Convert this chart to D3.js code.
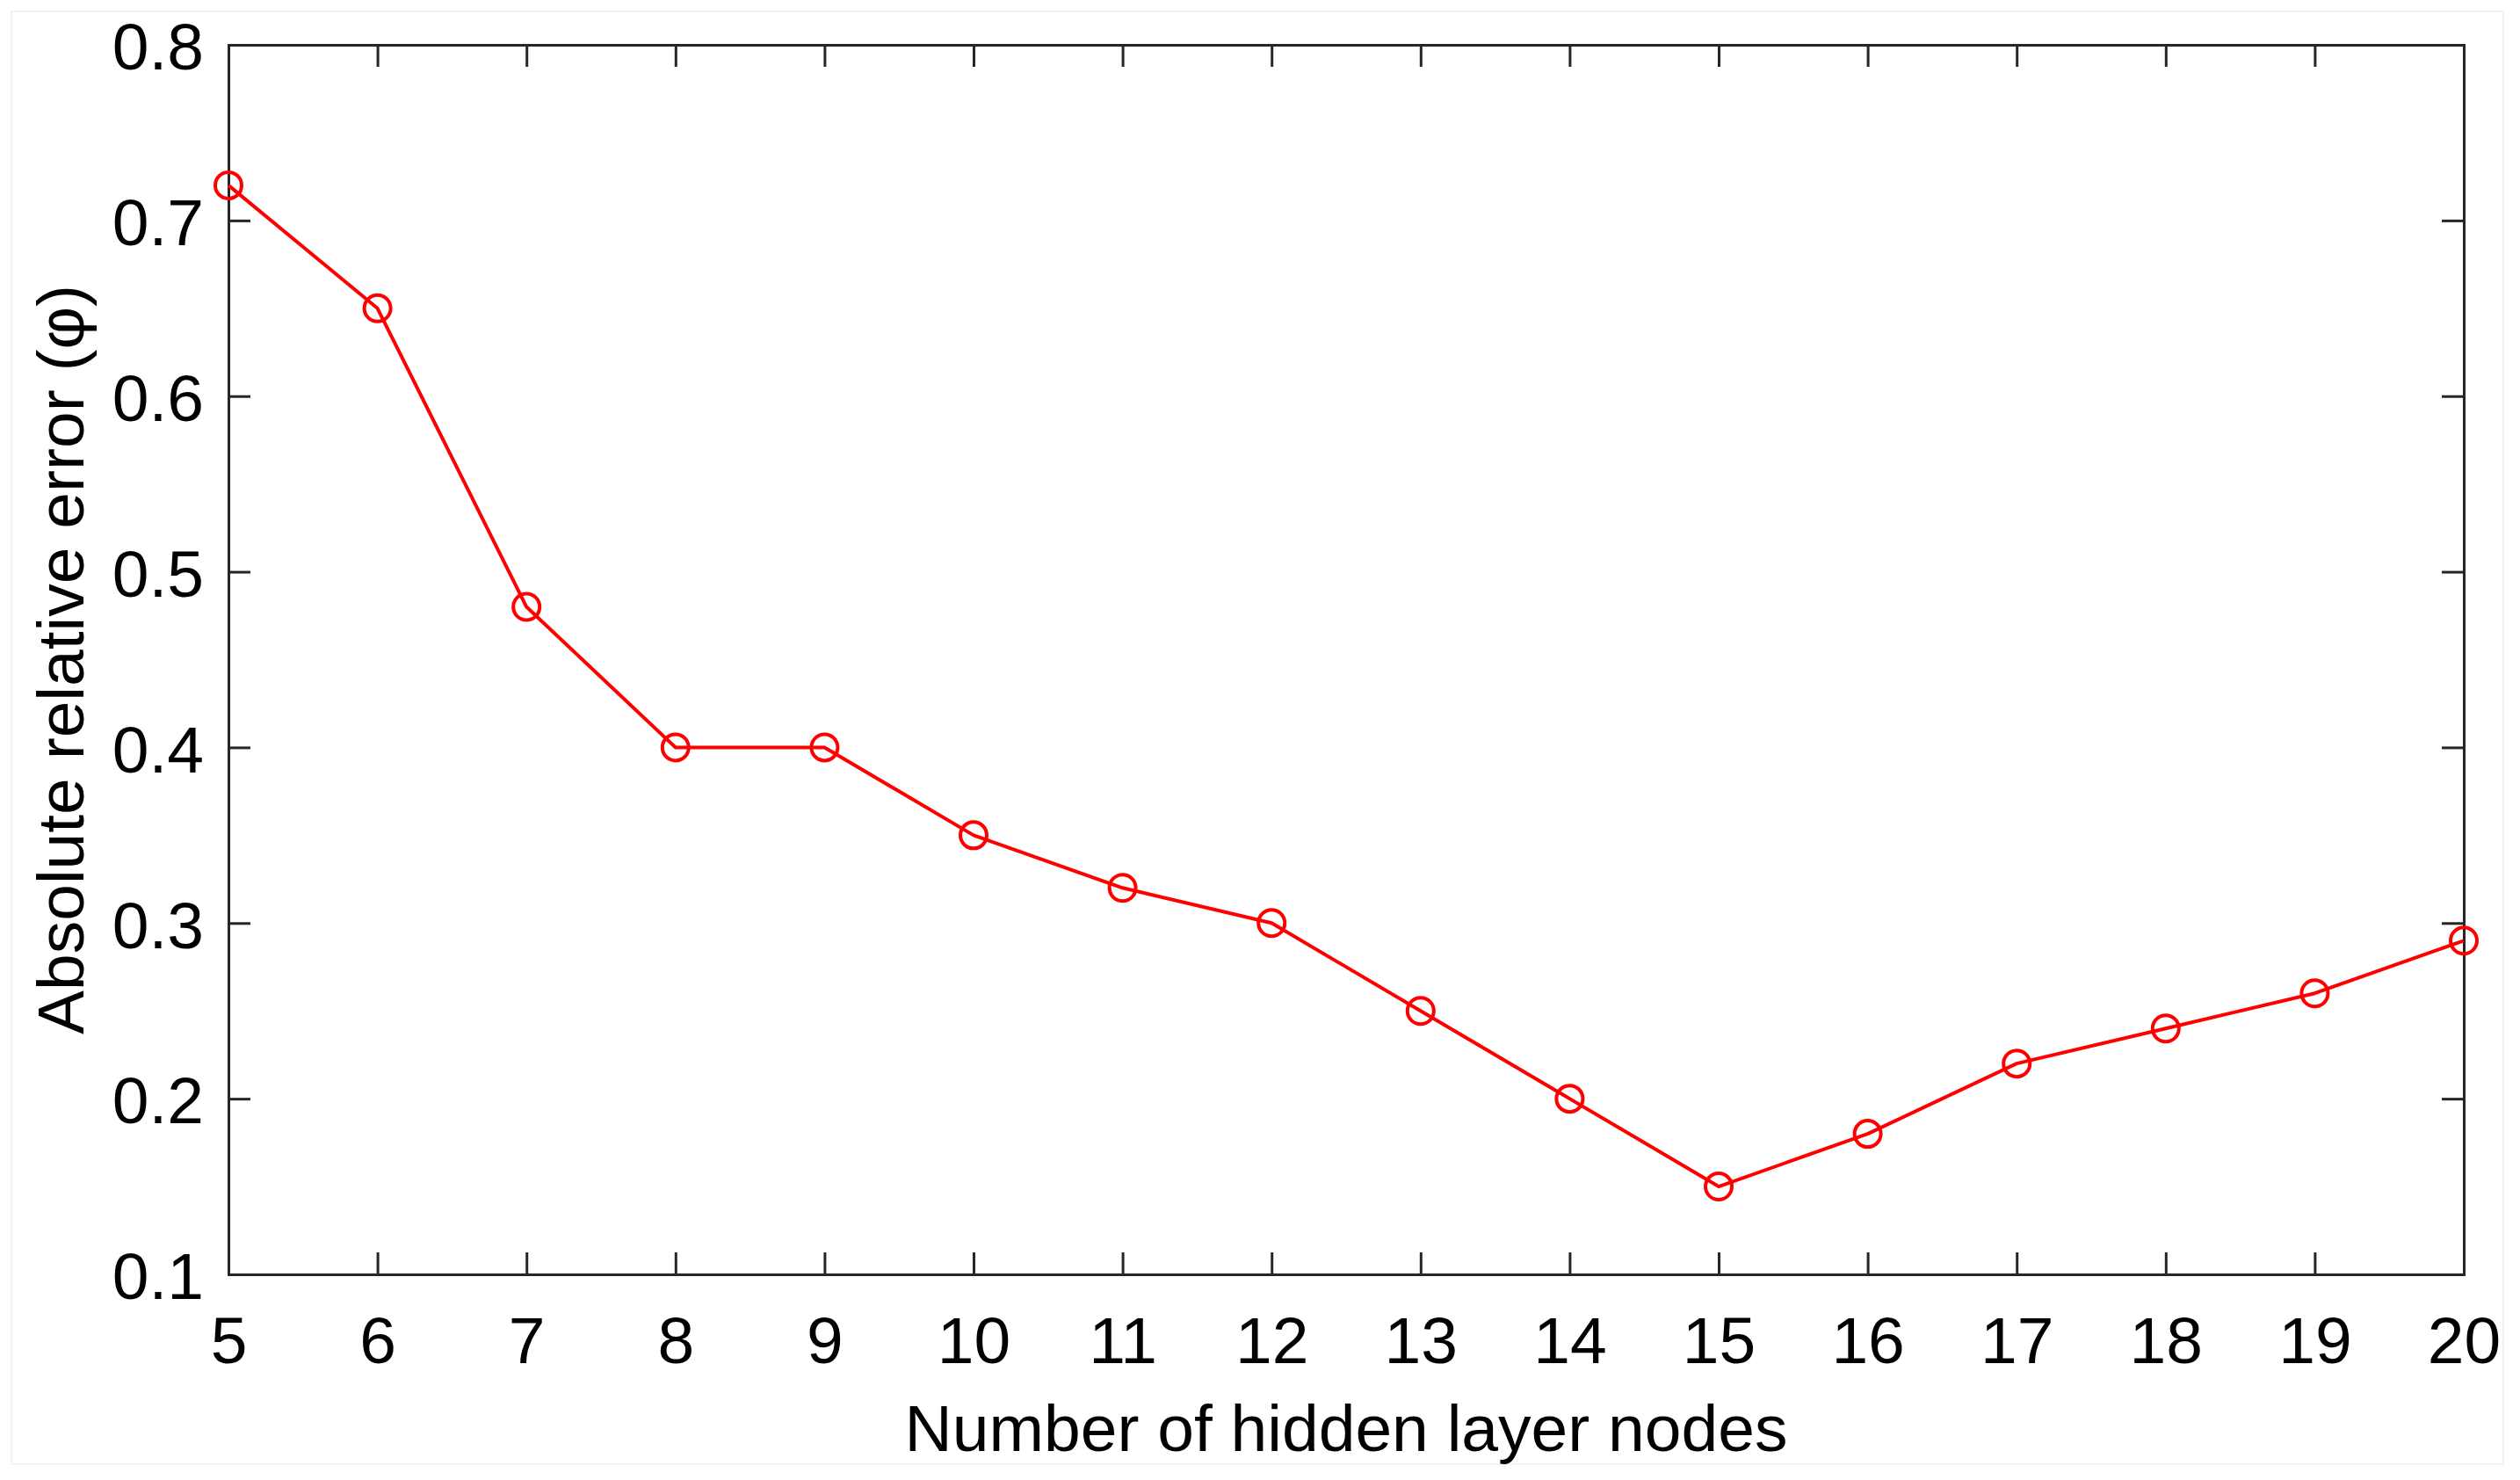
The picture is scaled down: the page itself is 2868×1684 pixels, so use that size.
<!DOCTYPE html>
<html>
<head>
<meta charset="utf-8">
<script src="https://cdn.jsdelivr.net/npm/d3@7"></script>
<style>
  body { margin: 0; background: #fff; }
  svg { display: block; }
  text { font-family: "Liberation Sans", Arial, Helvetica, sans-serif; }
</style>
</head>
<body>
<svg id="chart"></svg>
<script>
// hidden layer node counts and the error for each
var nodeCounts = [5, 6, 7, 8, 9, 10, 11, 12, 13, 14, 15, 16, 17, 18, 19, 20];
var errors = [0.72, 0.65, 0.48, 0.40, 0.40, 0.35, 0.32, 0.30, 0.25, 0.20, 0.15, 0.18, 0.22, 0.24, 0.26, 0.29];
var yTicks = [0.1, 0.2, 0.3, 0.4, 0.5, 0.6, 0.7, 0.8];
var xLabel = "Number of hidden layer nodes";
var yLabel = "Absolute relative error (\u03c6)";

var width = 2868, height = 1684;
// plot box edges (window.top is taken, so no bare "top")
var plotL = 260, plotR = 2804, plotT = 51, plotB = 1450;
var tickLen = 25;
var axisColor = "#262626";

var svg = d3.select("#chart").attr("width", width).attr("height", height);

// faint frame round the picture
svg.append("rect")
  .attr("x", 13).attr("y", 13)
  .attr("width", width - 26 - 6).attr("height", height - 26 - 5)
  .attr("fill", "none").attr("stroke", "#f1f2f4").attr("stroke-width", 2);

var x = d3.scaleLinear().domain([5, 20]).range([plotL, plotR]);
var y = d3.scaleLinear().domain([0.1, 0.8]).range([plotB, plotT]);

function styleAxis(g) {
  g.select(".domain").attr("stroke", axisColor).attr("stroke-width", 3).attr("stroke-linecap", "square");
  g.selectAll(".tick line").attr("stroke", axisColor).attr("stroke-width", 3);
  g.selectAll(".tick text").attr("fill", "#000").attr("font-size", 75)
    .attr("font-family", "'Liberation Sans', Arial, Helvetica, sans-serif");
}

// bottom axis, ticks pointing in
svg.append("g")
  .attr("transform", "translate(0," + plotB + ")")
  .call(d3.axisBottom(x).tickValues(nodeCounts).tickSize(-tickLen).tickSizeOuter(0).tickPadding(48))
  .call(styleAxis);

// top axis, no labels
svg.append("g")
  .attr("transform", "translate(0," + plotT + ")")
  .call(d3.axisTop(x).tickValues(nodeCounts).tickSize(-tickLen).tickSizeOuter(0).tickFormat(""))
  .call(styleAxis);

// left axis
var gy = svg.append("g")
  .attr("transform", "translate(" + plotL + ",0)")
  .call(d3.axisLeft(y).tickValues(yTicks).tickSize(-tickLen).tickSizeOuter(0).tickPadding(28).tickFormat(d3.format(".1f")))
  .call(styleAxis);
gy.selectAll(".tick text").attr("dy", "0.37em");

// right axis, no labels
svg.append("g")
  .attr("transform", "translate(" + plotR + ",0)")
  .call(d3.axisRight(y).tickValues(yTicks).tickSize(-tickLen).tickSizeOuter(0).tickFormat(""))
  .call(styleAxis);

// axis titles
svg.append("text")
  .attr("x", (plotL + plotR) / 2)
  .attr("y", 1651)
  .attr("text-anchor", "middle")
  .attr("font-size", 75)
  .text(xLabel);

svg.append("text")
  .attr("transform", "translate(95," + (plotT + plotB) / 2 + ") rotate(-90)")
  .attr("text-anchor", "middle")
  .attr("font-size", 75)
  .text(yLabel);

// the series
var pts = nodeCounts.map(function(n, i) { return [n, errors[i]]; });

var line = d3.line()
  .x(function(d) { return x(d[0]); })
  .y(function(d) { return y(d[1]); });

svg.append("path")
  .datum(pts)
  .attr("d", line)
  .attr("fill", "none")
  .attr("stroke", "#ff0000")
  .attr("stroke-width", 4)
  .attr("stroke-linejoin", "round");

svg.selectAll("circle.marker")
  .data(pts)
  .enter()
  .append("circle")
  .attr("class", "marker")
  .attr("cx", function(d) { return x(d[0]); })
  .attr("cy", function(d) { return y(d[1]); })
  .attr("r", 15)
  .attr("fill", "none")
  .attr("stroke", "#ff0000")
  .attr("stroke-width", 4);
</script>
</body>
</html>
